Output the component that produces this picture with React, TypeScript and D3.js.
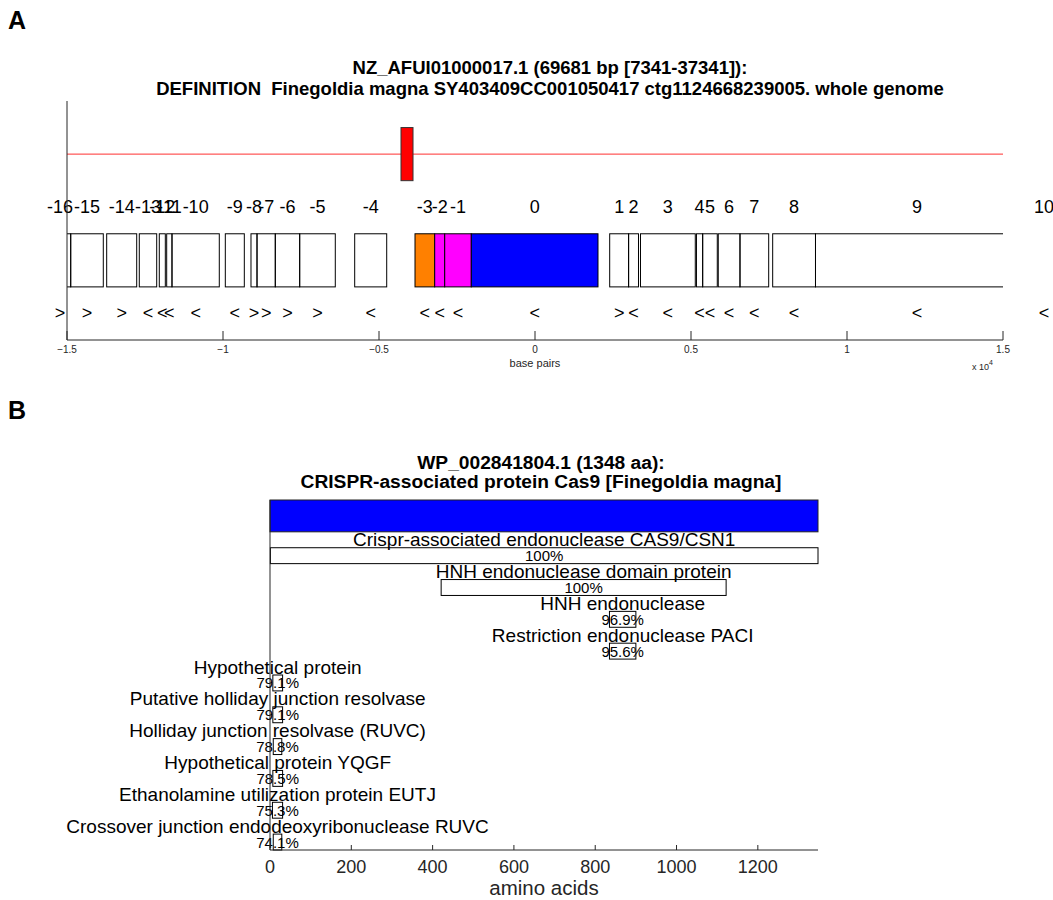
import React, { useEffect, useRef } from 'react';
import * as d3 from 'd3';

const FONT = 'Liberation Sans, Arial, Helvetica, sans-serif';
const AXIS_COLOR = '#262626';

// ---- Panel A: genomic neighbourhood (bp, relative to cas9 centre) ----
const contigTitle = 'NZ_AFUI01000017.1 (69681 bp [7341-37341]):';
const contigDefinition =
  'DEFINITION  Finegoldia magna SY403409CC001050417 ctg1124668239005. whole genome';

const geneIds = [
  -16, -15, -14, -13, -12, -11, -10, -9, -8, -7, -6, -5, -4, -3, -2, -1, 0, 1, 2, 3,
  4, 5, 6, 7, 8, 9, 10,
];
const geneStarts = [
  -15569, -14881, -13728, -12683, -12042, -11805, -11635, -9926, -9103, -8910, -8324,
  -7542, -5779, -3846, -3215, -2894, -2042, 2394, 3000, 3381, 5175, 5374, 5874, 6570,
  7618, 8990, 15900,
];
const geneEnds = [
  -14881, -13837, -12766, -12125, -11849, -11635, -10119, -9317, -8910, -8324, -7542,
  -6401, -4753, -3215, -2894, -2042, 2019, 3000, 3317, 5137, 5374, 5842, 6570, 7490,
  8990, 15497, 16730,
];
const geneStrands = [
  '>', '>', '>', '<', '<', '<', '<', '<', '>', '>', '>', '>', '<', '<', '<', '<', '<',
  '>', '<', '<', '<', '<', '<', '<', '<', '<', '<',
];

// CRISPR array marker on the upper track
const crisprStart = -4295;
const crisprEnd = -3910;

const bpDomain = [-15000, 15000];
const bpTicks = [-15000, -10000, -5000, 0, 5000, 10000, 15000];

// highlighted genes (style only)
const GENE_FILL: Record<number, string> = {
  [-3]: '#ff8000',
  [-2]: '#ff00ff',
  [-1]: '#ff00ff',
  0: '#0000ff',
};

// ---- Panel B: Cas9 protein and domain hits (amino acids) ----
const proteinTitle = 'WP_002841804.1 (1348 aa):';
const proteinDefinition = 'CRISPR-associated protein Cas9 [Finegoldia magna]';
const proteinLength = 1348;

const domainNames = [
  'Crispr-associated endonuclease CAS9/CSN1',
  'HNH endonuclease domain protein',
  'HNH endonuclease',
  'Restriction endonuclease PACI',
  'Hypothetical protein',
  'Putative holliday junction resolvase',
  'Holliday junction resolvase (RUVC)',
  'Hypothetical protein YQGF',
  'Ethanolamine utilization protein EUTJ',
  'Crossover junction endodeoxyribonuclease RUVC',
];
const domainStarts = [1, 421, 835, 835, 7, 7, 8, 7, 6, 8];
const domainEnds = [1348, 1122, 900, 900, 31, 31, 29, 31, 31, 29];
const domainIdentity = [
  '100%', '100%', '96.9%', '95.6%', '79.1%', '79.1%', '78.8%', '78.5%', '75.3%', '74.1%',
];
const aaTicks = [0, 200, 400, 600, 800, 1000, 1200];

function App() {
  const svgRef = useRef<SVGSVGElement>(null);

  useEffect(() => {
    const svg = d3.select(svgRef.current);
    svg.selectAll('*').remove();

    // panel letters
    svg.append('text').attr('x', 8).attr('y', 29).attr('font-size', 25)
      .attr('font-weight', 'bold').attr('font-family', FONT).text('A');
    svg.append('text').attr('x', 8).attr('y', 419).attr('font-size', 25)
      .attr('font-weight', 'bold').attr('font-family', FONT).text('B');

    // ================= Panel A =================
    const xA = d3.scaleLinear().domain(bpDomain).range([67, 1003]);
    // track units: arrows 0.5, genes 1-2, labels 2.5, crispr 3-4
    const yA = d3.scaleLinear().domain([0, 4.5]).range([340, 101]);

    const gA = svg.append('g');

    gA.append('text').attr('x', 550).attr('y', 73.5).attr('text-anchor', 'middle')
      .attr('font-size', 18.5).attr('font-weight', 'bold').attr('font-family', FONT)
      .style('white-space', 'pre').text(contigTitle);
    gA.append('text').attr('x', 550).attr('y', 94.5).attr('text-anchor', 'middle')
      .attr('font-size', 18.5).attr('font-weight', 'bold').attr('font-family', FONT)
      .style('white-space', 'pre').text(contigDefinition);

    svg.append('defs').append('clipPath').attr('id', 'clipA')
      .append('rect').attr('x', xA(bpDomain[0])).attr('y', yA(4.5))
      .attr('width', xA(bpDomain[1]) - xA(bpDomain[0])).attr('height', yA(0) - yA(4.5));

    const plotA = gA.append('g').attr('clip-path', 'url(#clipA)');

    // upper track line + CRISPR marker
    plotA.append('line').attr('x1', xA(bpDomain[0])).attr('x2', xA(bpDomain[1]))
      .attr('y1', yA(3.5)).attr('y2', yA(3.5)).attr('stroke', '#ff3030').attr('stroke-width', 1);
    plotA.append('rect').attr('x', xA(crisprStart)).attr('width', xA(crisprEnd) - xA(crisprStart))
      .attr('y', yA(4)).attr('height', yA(3) - yA(4))
      .attr('fill', '#ff0000').attr('stroke', '#333').attr('stroke-width', 1);

    // gene boxes
    geneIds.forEach((id, i) => {
      plotA.append('rect')
        .attr('x', xA(geneStarts[i]))
        .attr('width', xA(geneEnds[i]) - xA(geneStarts[i]))
        .attr('y', yA(2))
        .attr('height', yA(1) - yA(2))
        .attr('fill', GENE_FILL[id] || 'none')
        .attr('stroke', '#000')
        .attr('stroke-width', 1);
    });

    // gene numbers and strand arrows (not clipped)
    geneIds.forEach((id, i) => {
      const cx = xA((geneStarts[i] + geneEnds[i]) / 2);
      gA.append('text').attr('x', cx).attr('y', yA(2.5)).attr('text-anchor', 'middle')
        .attr('dominant-baseline', 'central').attr('font-size', 18).attr('font-family', FONT)
        .text(String(id));
      gA.append('text').attr('x', cx).attr('y', yA(0.5)).attr('text-anchor', 'middle')
        .attr('dominant-baseline', 'central').attr('font-size', 18).attr('font-family', FONT)
        .text(geneStrands[i]);
    });

    // axes
    gA.append('line').attr('x1', xA(bpDomain[0])).attr('x2', xA(bpDomain[0]))
      .attr('y1', yA(4.5)).attr('y2', yA(0)).attr('stroke', AXIS_COLOR);
    gA.append('line').attr('x1', xA(bpDomain[0])).attr('x2', xA(bpDomain[1]))
      .attr('y1', yA(0)).attr('y2', yA(0)).attr('stroke', AXIS_COLOR);
    bpTicks.forEach((t) => {
      gA.append('line').attr('x1', xA(t)).attr('x2', xA(t))
        .attr('y1', yA(0)).attr('y2', yA(0) - 9).attr('stroke', AXIS_COLOR);
      gA.append('text').attr('x', xA(t)).attr('y', yA(0) + 13).attr('text-anchor', 'middle')
        .attr('font-size', 10).attr('font-family', FONT).attr('fill', AXIS_COLOR)
        .text(d3.format('~g')(t / 1e4));
    });
    gA.append('text').attr('x', 535).attr('y', yA(0) + 27).attr('text-anchor', 'middle')
      .attr('font-size', 11).attr('font-family', FONT).attr('fill', AXIS_COLOR)
      .text('base pairs');
    const exp = gA.append('text').attr('x', 972).attr('y', yA(0) + 30)
      .attr('font-size', 9).attr('font-family', FONT).attr('fill', AXIS_COLOR);
    exp.append('tspan').text('x 10');
    exp.append('tspan').attr('dy', -5).attr('font-size', 7).text('4');

    // ================= Panel B =================
    const xB = d3.scaleLinear().domain([0, proteinLength]).range([270, 818]);
    // units: query bar 0-2, then label + box per hit
    const yB = d3.scaleLinear().domain([0, 22]).range([500, 850]);

    const gB = svg.append('g');

    gB.append('text').attr('x', 541).attr('y', 469).attr('text-anchor', 'middle')
      .attr('font-size', 19.2).attr('font-weight', 'bold').attr('font-family', FONT)
      .text(proteinTitle);
    gB.append('text').attr('x', 541).attr('y', 488).attr('text-anchor', 'middle')
      .attr('font-size', 19.2).attr('font-weight', 'bold').attr('font-family', FONT)
      .text(proteinDefinition);

    gB.append('rect').attr('x', xB(0)).attr('width', xB(proteinLength) - xB(0))
      .attr('y', yB(0)).attr('height', yB(2) - yB(0))
      .attr('fill', '#0000ff').attr('stroke', '#222');

    domainNames.forEach((name, i) => {
      const cx = xB((domainStarts[i] + domainEnds[i]) / 2);
      const top = 2 + 2 * i;
      gB.append('rect')
        .attr('x', xB(domainStarts[i]))
        .attr('width', xB(domainEnds[i]) - xB(domainStarts[i]))
        .attr('y', yB(top + 1))
        .attr('height', yB(top + 2) - yB(top + 1))
        .attr('fill', 'none').attr('stroke', '#000');
      gB.append('text').attr('x', cx).attr('y', yB(top + 0.5)).attr('text-anchor', 'middle')
        .attr('dominant-baseline', 'central').attr('font-size', 19).attr('font-family', FONT)
        .text(name);
      gB.append('text').attr('x', cx).attr('y', yB(top + 1.5)).attr('text-anchor', 'middle')
        .attr('dominant-baseline', 'central').attr('font-size', 15).attr('font-family', FONT)
        .text(domainIdentity[i]);
    });

    gB.append('line').attr('x1', xB(0)).attr('x2', xB(0))
      .attr('y1', yB(0)).attr('y2', yB(22)).attr('stroke', AXIS_COLOR);
    gB.append('line').attr('x1', xB(0)).attr('x2', xB(proteinLength))
      .attr('y1', yB(22)).attr('y2', yB(22)).attr('stroke', AXIS_COLOR);
    aaTicks.forEach((t) => {
      gB.append('line').attr('x1', xB(t)).attr('x2', xB(t))
        .attr('y1', yB(22)).attr('y2', yB(22) - 5).attr('stroke', AXIS_COLOR);
      gB.append('text').attr('x', xB(t)).attr('y', yB(22) + 23).attr('text-anchor', 'middle')
        .attr('font-size', 18).attr('font-family', FONT).attr('fill', AXIS_COLOR)
        .text(String(t));
    });
    gB.append('text').attr('x', 544).attr('y', yB(22) + 45).attr('text-anchor', 'middle')
      .attr('font-size', 20.5).attr('font-family', FONT).attr('fill', AXIS_COLOR)
      .text('amino acids');
  }, []);

  return (
    <div style={{ position: 'absolute', left: 0, top: 0 }}>
      <svg ref={svgRef} width={1053} height={900} style={{ display: 'block', background: '#fff' }} />
    </div>
  );
}

export default App;
